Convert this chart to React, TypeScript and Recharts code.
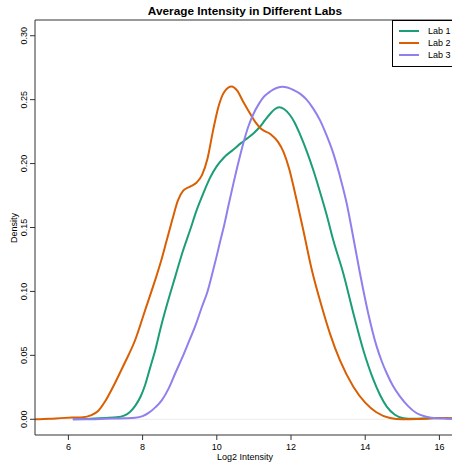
import React from "react";
import { LineChart, Line, XAxis, YAxis, ReferenceLine, Legend } from "recharts";

const labNames = ["Lab 1", "Lab 2", "Lab 3"];

// Lab 1 density
const lab1X = [6.12, 6.5, 7.0, 7.3, 7.5, 7.65, 7.8, 7.95, 8.07, 8.2, 8.34, 8.5, 8.65, 8.88, 9.08, 9.28, 9.45, 9.64, 9.82, 10.0, 10.2, 10.45, 10.65, 10.81, 11.0, 11.17, 11.3, 11.44, 11.56, 11.68, 11.82, 11.97, 12.1, 12.24, 12.42, 12.6, 12.78, 12.96, 13.14, 13.41, 13.68, 13.95, 14.22, 14.4, 14.58, 14.8, 15.03, 15.3, 15.6, 16.0, 16.42];
const lab1Y = [0.0, 0.0003, 0.001, 0.0015, 0.0028, 0.0055, 0.0105, 0.018, 0.027, 0.04, 0.054, 0.073, 0.089, 0.1116, 0.131, 0.148, 0.163, 0.177, 0.189, 0.198, 0.205, 0.211, 0.216, 0.2195, 0.224, 0.229, 0.234, 0.239, 0.2425, 0.244, 0.2425, 0.238, 0.232, 0.223, 0.21, 0.195, 0.178, 0.16, 0.14, 0.114, 0.083, 0.054, 0.031, 0.019, 0.0099, 0.0035, 0.0008, 0.0004, 0.0006, 0.001, 0.0005];

// Lab 2 density
const lab2X = [5.1, 5.5, 5.8, 6.1, 6.4, 6.6, 6.8, 7.0, 7.25, 7.5, 7.8, 8.07, 8.34, 8.5, 8.65, 8.8, 8.95, 9.1, 9.28, 9.45, 9.6, 9.75, 9.9, 10.05, 10.2, 10.4, 10.55, 10.7, 10.9, 11.05, 11.2, 11.45, 11.65, 11.8, 11.95, 12.1, 12.33, 12.56, 12.83, 13.05, 13.32, 13.68, 14.0, 14.3, 14.67, 15.0, 15.4, 15.8, 16.1, 16.42];
const lab2Y = [0.0, 0.0004, 0.0009, 0.0013, 0.0016, 0.003, 0.0065, 0.0145, 0.028, 0.043, 0.062, 0.0855, 0.109, 0.124, 0.14, 0.156, 0.171, 0.179, 0.182, 0.185, 0.191, 0.204, 0.226, 0.245, 0.256, 0.2603, 0.257, 0.249, 0.239, 0.232, 0.227, 0.223, 0.217, 0.209, 0.196, 0.178, 0.148, 0.117, 0.088, 0.067, 0.046, 0.0255, 0.013, 0.0055, 0.001, 0.0, 0.0002, 0.0008, 0.001, 0.0006];

// Lab 3 density
const lab3X = [6.12, 6.6, 7.0, 7.5, 7.8, 8.0, 8.16, 8.35, 8.52, 8.7, 8.88, 9.05, 9.23, 9.42, 9.6, 9.75, 9.87, 10.0, 10.09, 10.2, 10.32, 10.45, 10.6, 10.72, 10.85, 10.99, 11.13, 11.26, 11.4, 11.53, 11.65, 11.77, 11.9, 12.06, 12.25, 12.42, 12.6, 12.78, 12.96, 13.14, 13.32, 13.5, 13.68, 13.86, 14.08, 14.31, 14.45, 14.58, 14.75, 14.94, 15.15, 15.39, 15.65, 15.93, 16.2, 16.42];
const lab3Y = [0.0, 0.0, 0.0004, 0.0008, 0.0012, 0.0025, 0.005, 0.0095, 0.015, 0.024, 0.036, 0.047, 0.0595, 0.073, 0.088, 0.1, 0.113, 0.128, 0.139, 0.152, 0.168, 0.1847, 0.203, 0.2165, 0.229, 0.239, 0.2465, 0.252, 0.2555, 0.258, 0.2595, 0.26, 0.2595, 0.2577, 0.2545, 0.25, 0.243, 0.234, 0.222, 0.208, 0.19, 0.169, 0.142, 0.114, 0.083, 0.0568, 0.045, 0.036, 0.026, 0.0177, 0.0105, 0.0047, 0.002, 0.0008, 0.0005, 0.0003];

const xTicks = [6, 8, 10, 12, 14, 16];
const yTicks = [0, 0.05, 0.1, 0.15, 0.2, 0.25, 0.3];

const COLORS = ["#1b9e77", "#d95f02", "#8f80ee"];
const FONT = '"Liberation Sans", Arial, Helvetica, sans-serif';
const X_DOMAIN = [5.1, 16.42];
const Y_DOMAIN = [-0.0123, 0.3123];

const toPoints = (xs: number[], ys: number[]) => xs.map((x, i) => ({ x, y: ys[i] }));
const series = [toPoints(lab1X, lab1Y), toPoints(lab2X, lab2Y), toPoints(lab3X, lab3Y)];

function XTick(props: any) {
  const { x, payload } = props;
  return (
    <text x={x} y={449.5} textAnchor="middle" fontSize={9} fontFamily={FONT} fill="#000">
      {payload.value}
    </text>
  );
}

function YTick(props: any) {
  const { y, payload } = props;
  return (
    <text
      x={27}
      y={y}
      transform={`rotate(-90, 27, ${y})`}
      textAnchor="middle"
      fontSize={9}
      fontFamily={FONT}
      fill="#000"
    >
      {payload.value.toFixed(2)}
    </text>
  );
}

function LabLegend() {
  return (
    <div
      style={{
        border: "1px solid #000",
        background: "#fff",
        width: 62,
        height: 41,
        boxSizing: "content-box",
        paddingTop: 4,
        fontFamily: FONT,
        fontSize: 9,
      }}
    >
      {labNames.map((name, i) => (
        <div key={name} style={{ display: "flex", alignItems: "center", height: 12 }}>
          <span style={{ display: "inline-block", width: 20, height: 2, background: COLORS[i], marginLeft: 6, marginRight: 9 }} />
          <span>{name}</span>
        </div>
      ))}
    </div>
  );
}

export default function App() {
  return (
    <div
      style={{
        position: "absolute",
        left: 0,
        top: 0,
        width: 452,
        height: 464,
        overflow: "hidden",
        background: "#fff",
        fontFamily: FONT,
      }}
    >
      <div
        style={{
          position: "absolute",
          left: 35,
          width: 420,
          top: 4,
          textAlign: "center",
          fontSize: 11.8,
          fontWeight: "bold",
          lineHeight: "14px",
        }}
      >
        Average Intensity in Different Labs
      </div>
      <div
        style={{
          position: "absolute",
          left: 35,
          width: 420,
          top: 451,
          textAlign: "center",
          fontSize: 9,
          lineHeight: "12px",
        }}
      >
        Log2 Intensity
      </div>
      <div
        style={{
          position: "absolute",
          left: 13.5 - 50,
          top: 227.5 - 6,
          width: 100,
          height: 12,
          lineHeight: "12px",
          textAlign: "center",
          fontSize: 9,
          transform: "rotate(-90deg)",
        }}
      >
        Density
      </div>
      <LineChart width={470} height={464} margin={{ top: 20, right: 15, bottom: 0, left: 0 }}>
        <XAxis
          type="number"
          dataKey="x"
          domain={X_DOMAIN}
          ticks={xTicks}
          allowDataOverflow
          height={29}
          tickSize={5}
          tick={<XTick />}
          axisLine={{ stroke: "#333" }}
          tickLine={{ stroke: "#333" }}
        />
        <YAxis
          type="number"
          domain={Y_DOMAIN}
          ticks={yTicks}
          allowDataOverflow
          width={35}
          tickSize={5}
          tick={<YTick />}
          axisLine={{ stroke: "#333" }}
          tickLine={{ stroke: "#333" }}
        />
        <ReferenceLine y={0} stroke="#ececec" />
        <ReferenceLine y={Y_DOMAIN[1]} stroke="#333" />
        <ReferenceLine x={X_DOMAIN[1]} stroke="#333" />
        {series.map((pts, i) => (
          <Line
            key={labNames[i]}
            data={pts}
            dataKey="y"
            name={labNames[i]}
            type="monotone"
            stroke={COLORS[i]}
            strokeWidth={2}
            dot={false}
            isAnimationActive={false}
          />
        ))}
        <Legend
          layout="vertical"
          align="center"
          verticalAlign="middle"
          content={<LabLegend />}
          wrapperStyle={{ left: 392, top: 20, width: 64, height: 47 }}
        />
      </LineChart>
    </div>
  );
}
